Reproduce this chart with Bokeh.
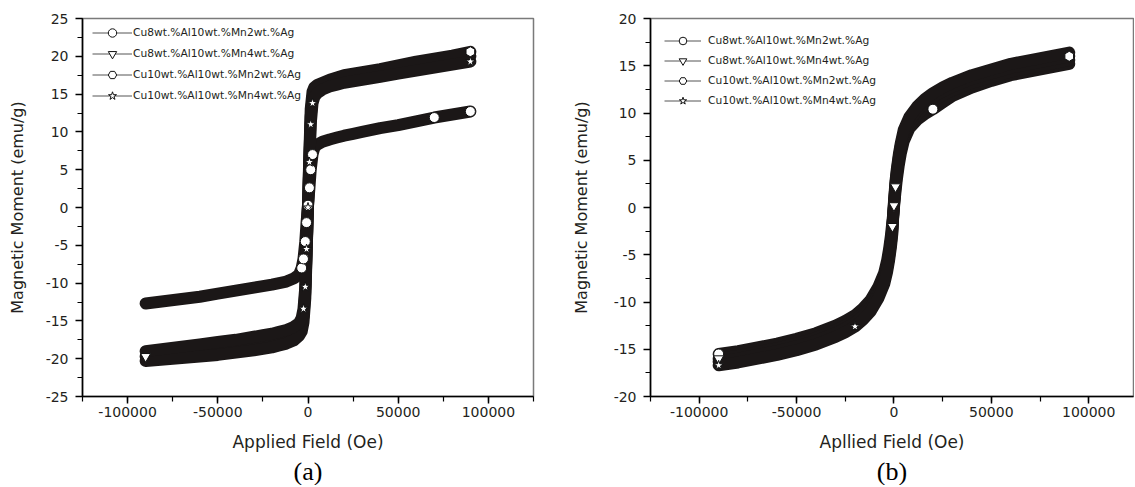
import numpy as np
from bokeh.plotting import figure
from bokeh.models import (Range1d, SingleIntervalTicker, PrintfTickFormatter,
                          Legend, LegendItem, Title, ColumnDataSource)
from bokeh.layouts import row
from bokeh.embed import file_html
from bokeh.resources import INLINE

series_labels = ["Cu8wt.%Al10wt.%Mn2wt.%Ag", "Cu8wt.%Al10wt.%Mn4wt.%Ag",
                 "Cu10wt.%Al10wt.%Mn2wt.%Ag", "Cu10wt.%Al10wt.%Mn4wt.%Ag"]
series_markers = ["circle", "inverted_triangle", "hex", "star"]

# Applied field (Oe), shared by every series
field = [-90000, -80000, -70000, -60000, -50000, -40000, -30000, -25000, -20000, -16000,
         -12000, -8000, -5000, -3500, -2500, -1500, -800, 0, 800, 1500,
         2500, 3500, 5000, 8000, 12000, 16000, 20000, 25000, 30000, 40000,
         50000, 60000, 70000, 80000, 90000]

# Panel (a): magnetic moment (emu/g)
cu8mn2_a = [-12.7, -12.4, -12.1, -11.8, -11.4, -11.0, -10.6, -10.4, -10.2, -10.0,
            -9.8, -9.4, -8.9, -8.0, -6.8, -4.5, -2.0, 0.3, 2.6, 5.0,
            7.0, 7.9, 8.3, 8.7, 9.0, 9.25, 9.5, 9.75, 10.0, 10.5,
            10.9, 11.4, 11.9, 12.3, 12.7]
cu8mn4_a = [-19.7, -19.4, -19.1, -18.9, -18.7, -18.4, -18.0, -17.8, -17.6, -17.35,
            -17.1, -16.7, -16.2, -15.6, -14.4, -11.2, -6.0, 0.2, 6.8, 12.0,
            14.6, 15.3, 15.7, 16.1, 16.5, 16.75, 17.0, 17.2, 17.4, 17.8,
            18.3, 18.7, 19.1, 19.6, 20.0]
cu10mn2_a = [-20.3, -20.1, -19.9, -19.7, -19.5, -19.2, -18.9, -18.7, -18.5, -18.25,
             -18.0, -17.6, -17.0, -16.4, -15.2, -12.0, -6.5, 0.5, 7.5, 13.0,
             15.3, 15.9, 16.2, 16.5, 16.9, 17.2, 17.5, 17.7, 17.9, 18.3,
             18.8, 19.3, 19.7, 20.1, 20.6]
cu10mn4_a = [-19.0, -18.7, -18.4, -18.1, -17.8, -17.5, -17.1, -16.9, -16.7, -16.45,
             -16.2, -15.8, -15.3, -14.6, -13.4, -10.5, -5.5, 0.0, 6.0, 11.0,
             13.8, 14.6, 15.1, 15.6, 16.0, 16.25, 16.5, 16.7, 16.9, 17.3,
             17.7, 18.1, 18.5, 18.9, 19.3]

# Panel (b): magnetic moment (emu/g)
cu8mn2_b = [-15.5, -15.2, -14.8, -14.4, -13.9, -13.3, -12.5, -12.0, -11.4, -10.7,
            -9.8, -8.4, -6.9, -5.6, -4.4, -2.9, -1.5, 0.0, 1.7, 3.0,
            4.5, 5.7, 7.0, 8.4, 9.3, 9.9, 10.4, 11.1, 11.8, 12.7,
            13.4, 14.0, 14.4, 14.8, 15.2]
cu8mn4_b = [-16.0, -15.7, -15.3, -14.9, -14.4, -13.8, -13.0, -12.5, -11.9, -11.2,
            -10.3, -8.9, -7.4, -6.1, -4.9, -3.4, -2.0, 0.2, 2.2, 3.5,
            5.0, 6.2, 7.5, 8.8, 9.9, 10.7, 11.3, 11.9, 12.4, 13.2,
            13.8, 14.4, 14.8, 15.2, 15.6]
cu10mn2_b = [-16.3, -16.0, -15.6, -15.2, -14.7, -14.1, -13.3, -12.8, -12.2, -11.5,
             -10.6, -9.2, -7.7, -6.4, -5.2, -3.7, -2.3, 0.4, 2.5, 3.8,
             5.3, 6.5, 7.8, 9.2, 10.3, 11.1, 11.7, 12.3, 12.8, 13.6,
             14.2, 14.8, 15.2, 15.6, 16.0]
cu10mn4_b = [-16.7, -16.4, -16.0, -15.6, -15.1, -14.5, -13.7, -13.2, -12.6, -11.9,
             -11.0, -9.6, -8.1, -6.8, -5.6, -4.1, -2.7, 0.6, 2.8, 4.1,
             5.6, 6.8, 8.2, 9.6, 10.7, 11.5, 12.1, 12.7, 13.2, 14.0,
             14.6, 15.2, 15.6, 16.0, 16.4]

# which points show an uncovered (white) marker
marks_a = [[13, 14, 15, 16, 17, 18, 19, 20, 32, 34], [0], [34], [14, 15, 16, 17, 18, 19, 20, 34]]
marks_b = [[0, 26], [0, 16, 17, 18], [34], [0, 8]]

TXT = "#231f20"
BAND = "#1b1717"


def panel(series, marks, xlabel, caption, yr, xr, W, H, mb, ylab_standoff,
          leg_xy, glyph_w, glyph_h, leg_spacing, leg_standoff, band_w):
    p = figure(width=W, height=H, x_range=Range1d(*xr), y_range=Range1d(*yr),
               output_backend="svg", toolbar_location=None,
               min_border_left=mb[0], min_border_right=mb[1],
               min_border_top=mb[2], min_border_bottom=mb[3])
    p.xgrid.visible = False
    p.ygrid.visible = False
    p.outline_line_color = "#7a7a7a"
    p.outline_line_width = 1.5
    p.background_fill_color = "white"
    p.border_fill_color = "white"
    p.xaxis.ticker = SingleIntervalTicker(interval=50000, num_minor_ticks=2)
    p.yaxis.ticker = SingleIntervalTicker(interval=5, num_minor_ticks=2)
    for ax in (p.xaxis[0], p.yaxis[0]):
        ax.formatter = PrintfTickFormatter(format="%d")
        ax.axis_line_color = "black"
        ax.axis_line_width = 1.6
        ax.major_tick_line_color = "black"
        ax.major_tick_line_width = 1.5
        ax.minor_tick_line_color = "black"
        ax.minor_tick_line_width = 1.2
        ax.major_tick_in = 0
        ax.major_tick_out = 7
        ax.minor_tick_in = 0
        ax.minor_tick_out = 5
        ax.major_label_text_font = "DejaVu Sans"
        ax.major_label_text_font_size = "14px"
        ax.major_label_text_color = TXT
        ax.axis_label_text_font = "DejaVu Sans"
        ax.axis_label_text_font_style = "normal"
        ax.axis_label_text_color = TXT
    p.xaxis.axis_label_text_font_size = "17px"
    p.yaxis.axis_label_text_font_size = "16px"
    p.xaxis.axis_label = xlabel
    p.yaxis.axis_label = "Magnetic Moment (emu/g)"
    p.xaxis.major_label_standoff = 3
    p.xaxis.axis_label_standoff = 12
    p.yaxis.major_label_standoff = 7
    p.yaxis.axis_label_standoff = ylab_standoff

    thin = []
    for vals in series:
        src = ColumnDataSource(dict(x=field, y=vals))
        thin.append(p.line("x", "y", source=src, line_color="#555555", line_width=1))
    for vals in series:
        p.line(field, vals, line_color=BAND, line_width=band_w,
               line_join="round", line_cap="round")
    mk = []
    for vals, marker, idx in zip(series, series_markers, marks):
        xs = [field[i] for i in idx]
        ys = [vals[i] for i in idx]
        kw = dict(angle=np.pi / 6) if marker == "hex" else {}
        mk.append(p.scatter(xs, ys, marker=marker, size=10, fill_color="white",
                            line_color="#111111", line_width=1, **kw))

    items = [LegendItem(label=lab, renderers=[thin[k], mk[k]])
             for k, lab in enumerate(series_labels)]
    leg = Legend(items=items, location=leg_xy, glyph_width=glyph_w, glyph_height=glyph_h,
                 label_height=glyph_h, spacing=leg_spacing, padding=0, margin=0,
                 label_standoff=leg_standoff, border_line_color=None,
                 background_fill_alpha=0, label_text_font="DejaVu Sans",
                 label_text_font_size="10.7px", label_text_color=TXT)
    p.add_layout(leg)
    p.add_layout(Title(text=caption, align="center", text_font="Liberation Serif",
                       text_font_size="26px", text_font_style="normal",
                       text_color="black", standoff=0), "below")
    return p


pa = panel([cu8mn2_a, cu8mn4_a, cu10mn2_a, cu10mn4_a], marks_a, "Applied Field (Oe)", "(a)",
           (-25, 25), (-125000, 125000), 568, 485, (82, 35, 17, 88), 16,
           (10, 290), 40, 21, 0, 1, 12)
pb = panel([cu8mn2_b, cu8mn4_b, cu10mn2_b, cu10mn4_b], marks_b, "Apllied Field (Oe)", "(b)",
           (-20, 20), (-125000, 123000), 566, 485, (79, 1, 18, 88), 20,
           (14, 286), 37, 19, 1, 7, 12)

layout = row(pa, pb)
open("out.html", "w").write(file_html(layout, INLINE))
